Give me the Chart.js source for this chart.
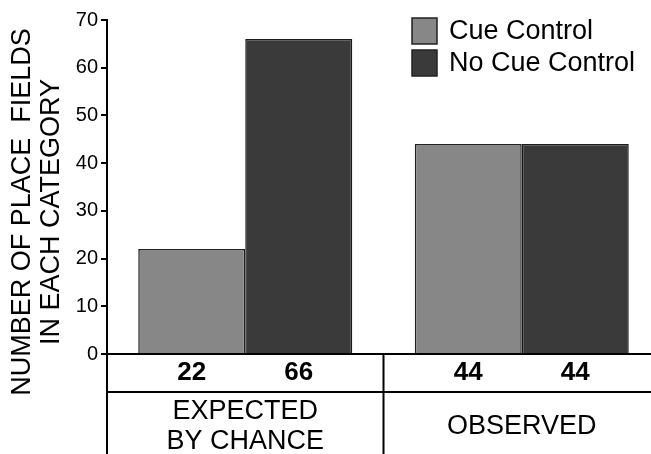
<!DOCTYPE html>
<html>
<head>
<meta charset="utf-8">
<script src="https://cdn.jsdelivr.net/npm/chart.js@4/dist/chart.umd.min.js"></script>
<style>
  html, body { margin: 0; padding: 0; background: #fff; overflow: hidden; }
  #wrap { width: 660px; height: 454px; }
</style>
</head>
<body>
<div id="wrap"><canvas id="chart" width="660" height="454"></canvas></div>
<script>
const categories = [['EXPECTED', 'BY CHANCE'], 'OBSERVED'];
const seriesNames = ['Cue Control', 'No Cue Control'];
const cueControl = [22, 44];
const noCueControl = [66, 44];
const yTitle = ['NUMBER OF PLACE  FIELDS', 'IN EACH CATEGORY'];
const yMin = 0, yMax = 70, yStep = 10;

const FONT = "'Liberation Sans', Arial, Helvetica, sans-serif";
Chart.defaults.font.family = FONT;
Chart.defaults.color = '#000';

// table under the x axis, y axis extension, y title and legend
const tablePlugin = {
  id: 'table',
  afterDraw(chart) {
    const ctx = chart.ctx;
    const { left, bottom } = chart.chartArea;
    const xs = chart.scales.x;
    const H = chart.height, W = chart.width;
    ctx.save();
    ctx.strokeStyle = '#000';
    ctx.lineWidth = 2;
    ctx.beginPath();
    ctx.moveTo(left, bottom);
    ctx.lineTo(left, H);
    ctx.moveTo(left, bottom + 38);
    ctx.lineTo(W, bottom + 38);
    const mid = (xs.getPixelForValue(0) + xs.getPixelForValue(1)) / 2;
    ctx.moveTo(mid, bottom);
    ctx.lineTo(mid, H);
    ctx.stroke();

    // value row
    ctx.fillStyle = '#000';
    ctx.font = 'bold 26px ' + FONT;
    ctx.textAlign = 'center';
    ctx.textBaseline = 'middle';
    chart.data.datasets.forEach((ds, i) => {
      chart.getDatasetMeta(i).data.forEach((bar, j) => {
        ctx.fillText(String(ds.data[j]), bar.x, bottom + 19);
      });
    });

    // y title, sits a bit below the middle of the axis
    ctx.save();
    ctx.font = '27px ' + FONT;
    ctx.translate(22.5, 212);
    ctx.rotate(-Math.PI / 2);
    yTitle.forEach((t, i) => ctx.fillText(t, 0, i * 29.5));
    ctx.restore();

    // legend
    ctx.font = '27px ' + FONT;
    ctx.textAlign = 'left';
    chart.data.datasets.forEach((ds, i) => {
      const y = 18 + i * 32;
      ctx.fillStyle = ds.backgroundColor;
      ctx.fillRect(412, y, 25, 26);
      ctx.lineWidth = 1.5;
      ctx.strokeStyle = '#222';
      ctx.strokeRect(412, y, 25, 26);
      ctx.fillStyle = '#000';
      ctx.fillText(ds.label, 449, y + 14);
    });
    ctx.restore();
  }
};

new Chart(document.getElementById('chart'), {
  type: 'bar',
  data: {
    labels: categories,
    datasets: [
      { label: seriesNames[0], data: cueControl, backgroundColor: '#878787', borderColor: '#222', borderWidth: 1.5 },
      { label: seriesNames[1], data: noCueControl, backgroundColor: '#3a3a3a', borderColor: '#1a1a1a', borderWidth: 1.5 }
    ]
  },
  options: {
    responsive: false,
    animation: false,
    layout: { padding: { top: 20, left: 0, right: 0, bottom: 0 } },
    datasets: { bar: { categoryPercentage: 0.774, barPercentage: 1.0 } },
    plugins: { legend: { display: false }, tooltip: { enabled: false } },
    scales: {
      x: {
        grid: { display: false },
        border: { display: true, color: '#000', width: 2 },
        ticks: { font: { size: 27, lineHeight: 1.11 }, color: '#000', padding: 50, crossAlign: 'center', maxRotation: 0, autoSkip: false },
        afterFit(s) { s.height = 100; }
      },
      y: {
        min: yMin, max: yMax,
        grid: { display: true, drawOnChartArea: false, drawTicks: true, tickLength: 6, color: '#000', lineWidth: 2 },
        border: { display: true, color: '#000', width: 2 },
        ticks: { stepSize: yStep, font: { size: 20 }, color: '#000', padding: 3 },
        afterFit(s) { s.width = 107; }
      }
    }
  },
  plugins: [tablePlugin]
});
</script>
</body>
</html>
